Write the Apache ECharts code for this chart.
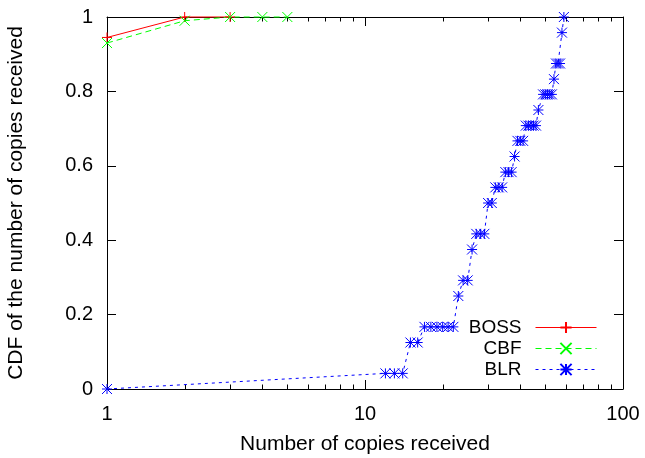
<!DOCTYPE html>
<html><head><meta charset="utf-8">
<script src="https://cdn.jsdelivr.net/npm/echarts@6/dist/echarts.min.js"></script>
<style>html,body{margin:0;padding:0;background:#fff}#c{width:645px;height:458px}</style>
</head><body><div id="c"></div>
<script>
const bossX = [1, 2, 3];
const bossY = [0.945, 1, 1];
const cbfX = [1, 2, 3, 4, 5];
const cbfY = [0.93, 0.99, 1, 1, 1];
const blrX = [1, 12, 13, 14, 15, 16, 17, 18, 19, 20, 21, 22, 23, 24, 25, 26, 27, 28, 29, 30, 31, 32, 33, 34, 35, 36, 37, 38, 39, 40, 41, 42, 43, 44, 45, 46, 47, 49, 50, 51, 52, 53, 54, 55, 56, 57, 58, 59];
const blrY = [0, 0.042, 0.042, 0.042, 0.125, 0.125, 0.167, 0.167, 0.167, 0.167, 0.167, 0.167, 0.25, 0.292, 0.292, 0.375, 0.417, 0.417, 0.417, 0.5, 0.5, 0.542, 0.542, 0.542, 0.583, 0.583, 0.583, 0.625, 0.667, 0.667, 0.667, 0.708, 0.708, 0.708, 0.708, 0.708, 0.75, 0.792, 0.792, 0.792, 0.792, 0.792, 0.833, 0.875, 0.875, 0.875, 0.958, 1];
const minorTicks = [2, 3, 4, 5, 6, 7, 8, 9, 20, 30, 40, 50, 60, 70, 80, 90];
const seriesNames = ['BOSS', 'CBF', 'BLR'];
const xName = 'Number of copies received';
const yName = 'CDF of the number of copies received';

const FONT = '"Liberation Sans", Arial, Helvetica, sans-serif';
const pair = (xs, ys) => xs.map((x, i) => [x, ys[i]]);
const PLUS = 'path://M0,5L10,5M5,0L5,10';
const CROSS = 'path://M0,0L10,10M0,10L10,0';
const STAR = 'path://M0,5L10,5M5,0L5,10M0,0L10,10M0,10L10,0';

const chart = echarts.init(document.getElementById('c'), null, {renderer: 'canvas'});
const axisCommon = {
  axisLine: {show: true, onZero: false, lineStyle: {color: '#000', width: 1}},
  axisTick: {show: true, inside: true, length: 9, lineStyle: {color: '#000', width: 1}},
  splitLine: {show: false},
  minorTick: {show: false}
};
function mk(name, data, color, sym, dash, size) {
  return {
    name: name, type: 'line', data: data, xAxisIndex: 0, yAxisIndex: 0,
    symbol: sym, symbolSize: size, showSymbol: true, clip: false,
    itemStyle: {color: 'rgba(0,0,0,0)', borderColor: color, borderWidth: 1},
    lineStyle: {color: color, width: 1, type: dash},
    emphasis: {disabled: true}, animation: false
  };
}
chart.setOption({
  animation: false,
  backgroundColor: '#fff',
  grid: {left: 107, right: 22, top: 17, bottom: 69, containLabel: false, outerBoundsMode: 'none'},
  textStyle: {fontFamily: FONT},
  legend: {
    data: seriesNames, orient: 'vertical', align: 'right',
    right: 48, top: 318, padding: 0, itemGap: 2, itemWidth: 61, itemHeight: 14,
    lineStyle: {width: 1},
    textStyle: {fontFamily: FONT, fontSize: 19, color: '#000', padding: [0, 9, 0, 0]},
    selectedMode: false
  },
  xAxis: [
    Object.assign({}, axisCommon, {
      type: 'log', logBase: 10, min: 1, max: 100, position: 'bottom',
      name: xName, nameLocation: 'middle', nameGap: 45,
      nameTextStyle: {fontFamily: FONT, fontSize: 21, color: '#000'},
      axisLabel: {show: true, margin: 15, fontFamily: FONT, fontSize: 20, color: '#000'}
    }),
    Object.assign({}, axisCommon, {
      type: 'log', logBase: 10, min: 1, max: 100, position: 'top',
      axisLabel: {show: false}
    })
  ],
  yAxis: [
    Object.assign({}, axisCommon, {
      type: 'value', min: 0, max: 1, interval: 0.2, position: 'left',
      name: yName, nameLocation: 'middle', nameGap: 80, nameRotate: 90,
      nameTextStyle: {fontFamily: FONT, fontSize: 21, color: '#000'},
      axisLabel: {show: true, margin: 14, fontFamily: FONT, fontSize: 20, color: '#000'}
    }),
    Object.assign({}, axisCommon, {
      type: 'value', min: 0, max: 1, interval: 0.2, position: 'right',
      axisLabel: {show: false}
    })
  ],
  series: [
    mk(seriesNames[0], pair(bossX, bossY), '#ff0000', PLUS, 'solid', 10),
    mk(seriesNames[1], pair(cbfX, cbfY), '#00ff00', CROSS, [6, 4], 10),
    mk(seriesNames[2], pair(blrX, blrY), '#0000ff', STAR, [3, 4], 10),
    {
      type: 'custom', xAxisIndex: 0, yAxisIndex: 0, silent: true, clip: false,
      data: minorTicks.map(v => [v, 0]),
      renderItem: function (params, api) {
        const cs = params.coordSys;
        const x = Math.round(api.coord([api.value(0), 0])[0]) + 0.5;
        const yb = cs.y + cs.height, yt = cs.y;
        return {
          type: 'group', children: [
            {type: 'line', shape: {x1: x, y1: yb, x2: x, y2: yb - 4.5}, style: {stroke: '#000', lineWidth: 1}},
            {type: 'line', shape: {x1: x, y1: yt, x2: x, y2: yt + 4.5}, style: {stroke: '#000', lineWidth: 1}}
          ]
        };
      }
    }
  ]
});
</script></body></html>
